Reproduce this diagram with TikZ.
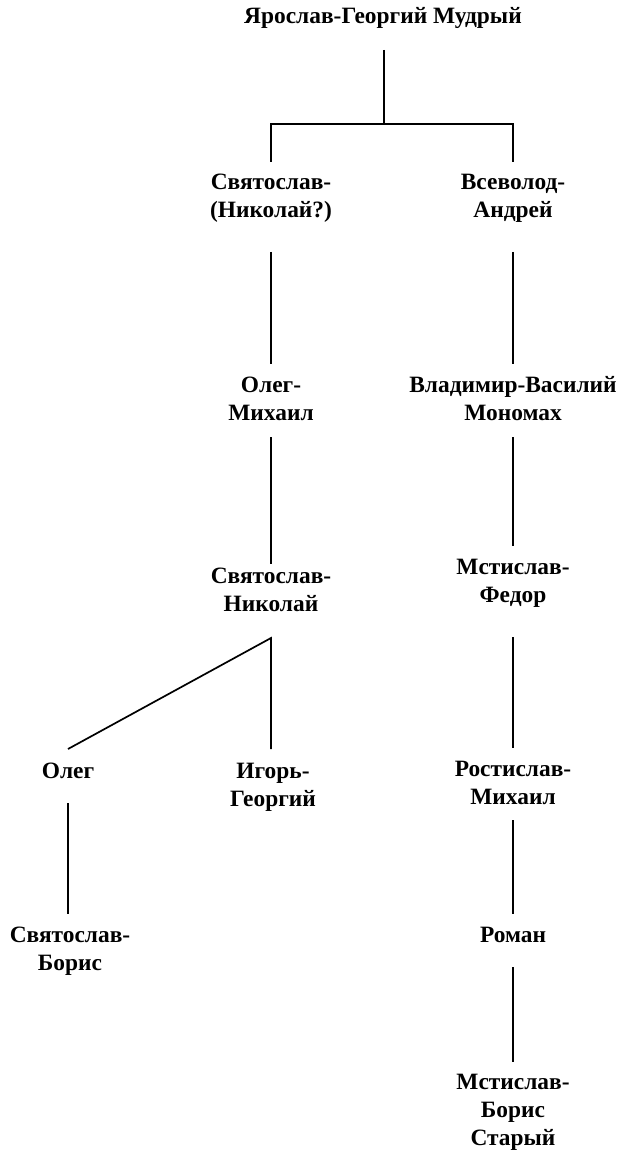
\documentclass[tikz,border=0pt]{standalone}
\usepackage{fontspec}
\setmainfont{Liberation Serif}
\begin{document}
\begin{tikzpicture}[x=1pt,y=-1pt,
  person/.style={inner sep=0pt, align=center, font=\bfseries\fontsize{23.4}{28}\selectfont},
  link/.style={line width=1.7pt, line cap=butt}]
\useasboundingbox (0,0) rectangle (621,1155);
% people
\node[person] (top) at (383,18) {\strut Ярослав-Георгий Мудрый};
\node[person] (s1) at (271,198) {\strut Святослав-\\\strut (Николай?)};
\node[person] (v1) at (513,198) {\strut Всеволод-\\\strut Андрей};
\node[person] (o1) at (271,401) {\strut Олег-\\\strut Михаил};
\node[person] (vm) at (513,401) {\strut Владимир-Василий\\\strut Мономах};
\node[person] (sn) at (271,592) {\strut Святослав-\\\strut Николай};
\node[person] (mf) at (513,583) {\strut Мстислав-\\\strut Федор};
\node[person] (og) at (68,773) {\strut Олег};
\node[person] (ig) at (273,787) {\strut Игорь-\\\strut Георгий};
\node[person] (rm) at (513,785) {\strut Ростислав-\\\strut Михаил};
\node[person] (sb) at (70,951) {\strut Святослав-\\\strut Борис};
\node[person] (ro) at (513,937) {\strut Роман};
\node[person] (mb) at (513,1112) {\strut Мстислав-\\\strut Борис\\\strut Старый};
% junctions
\coordinate (j0) at (384,124);
\coordinate (j1) at (271,638);
% connectors
\draw[link] (j0 |- 0,50) -- (j0);
\draw[link] (s1 |- 0,162) -- (s1 |- j0) -- (v1 |- j0) -- (v1 |- 0,162);
\draw[link] (s1 |- 0,252) -- (o1 |- 0,364);
\draw[link] (v1 |- 0,252) -- (vm |- 0,364);
\draw[link] (o1 |- 0,437) -- (sn |- 0,564);
\draw[link] (vm |- 0,437) -- (mf |- 0,546);
\draw[link] (og |- 0,749) -- (j1) -- (j1 |- 0,749);
\draw[link] (og |- 0,803) -- (og |- 0,914);
\draw[link] (mf |- 0,637) -- (rm |- 0,748);
\draw[link] (rm |- 0,820) -- (ro |- 0,914);
\draw[link] (ro |- 0,967) -- (mb |- 0,1062);
\end{tikzpicture}
\end{document}
